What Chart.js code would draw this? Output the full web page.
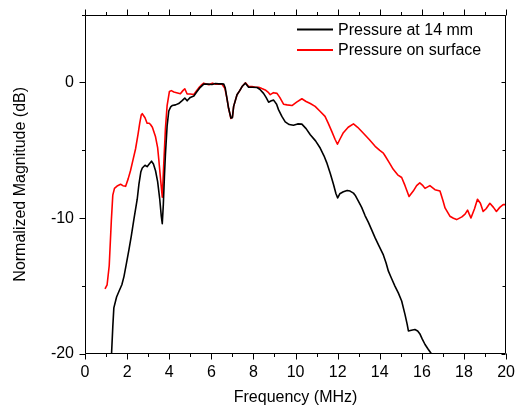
<!DOCTYPE html>
<html>
<head>
<meta charset="utf-8">
<script src="https://cdn.jsdelivr.net/npm/chart.js@4"></script>
<style>
  html, body { margin: 0; padding: 0; background: #fff; }
</style>
</head>
<body>
<canvas id="chart" width="518" height="409"></canvas>
<script>
// Pressure at 14 mm (black)
const freq14mm = [1.26, 1.32, 1.37, 1.5, 1.61, 1.75, 1.85, 1.97, 2.09, 2.2, 2.32, 2.48, 2.56, 2.65, 2.72, 2.85, 2.95, 3.05, 3.16, 3.25,
    3.35, 3.45, 3.55, 3.62, 3.67, 3.72, 3.77, 3.82, 3.9, 3.98, 4.07, 4.14, 4.3, 4.45, 4.6, 4.74, 4.85, 5.0, 5.17, 5.32,
    5.45, 5.64, 5.85, 6.03, 6.2, 6.35, 6.5, 6.59, 6.66, 6.74, 6.82, 6.93, 7.0, 7.06, 7.22, 7.35, 7.46, 7.62, 7.77, 7.95,
    8.17, 8.3, 8.48, 8.6, 8.72, 8.85, 8.96, 9.1, 9.19, 9.35, 9.51, 9.7, 9.9, 10.1, 10.3, 10.5, 10.7, 10.95, 11.17, 11.35,
    11.48, 11.65, 11.8, 11.92, 12.0, 12.1, 12.27, 12.45, 12.59, 12.75, 12.83, 12.99, 13.14, 13.3, 13.46, 13.6, 13.78, 13.95, 14.17, 14.3,
    14.41, 14.55, 14.72, 14.88, 15.04, 15.2, 15.3, 15.36, 15.5, 15.67, 15.8, 15.9, 16.02, 16.15, 16.3, 16.46];
const mag14mm = [-20, -18, -16.6, -15.8, -15.4, -14.9, -14.3, -13.3, -12.3, -11.3, -10.1, -8.6, -7.5, -6.6, -6.3, -6.1, -6.2, -6.0, -5.8, -6.0,
    -6.5, -7.3, -8.6, -9.8, -10.4, -9.0, -7.0, -5.3, -3.2, -2.1, -1.8, -1.7, -1.65, -1.55, -1.35, -1.15, -1.35, -1.1, -1.0, -0.66,
    -0.4, -0.12, -0.12, -0.15, -0.08, -0.1, -0.1, -0.12, -0.4, -1.15, -1.9, -2.62, -2.6, -1.76, -0.9, -0.6, -0.3, -0.05, -0.35, -0.35,
    -0.37, -0.5, -0.8, -1.1, -1.45, -1.35, -1.3, -1.6, -2.0, -2.5, -2.9, -3.1, -3.15, -3.05, -3.07, -3.4, -3.85, -4.3, -4.83, -5.4,
    -5.9, -6.7, -7.5, -8.2, -8.5, -8.2, -8.05, -7.95, -8.0, -8.15, -8.3, -8.75, -9.2, -9.8, -10.3, -10.8, -11.45, -12.0, -12.7, -13.3,
    -13.9, -14.4, -15.0, -15.5, -16.1, -17.1, -17.8, -18.3, -18.25, -18.2, -18.3, -18.5, -18.9, -19.3, -19.65, -20];

// Pressure on surface (red)
const freqSurface = [0.95, 1.05, 1.15, 1.25, 1.32, 1.4, 1.55, 1.69, 1.8, 1.93, 2.05, 2.16, 2.28, 2.4, 2.52, 2.6, 2.67, 2.72, 2.85, 2.95,
    3.05, 3.11, 3.2, 3.35, 3.45, 3.5, 3.6, 3.67, 3.74, 3.82, 3.9, 4.01, 4.1, 4.22, 4.35, 4.53, 4.65, 4.74, 4.85, 5.0,
    5.17, 5.3, 5.4, 5.52, 5.64, 5.88, 6.05, 6.19, 6.35, 6.5, 6.64, 6.74, 6.82, 6.93, 7.0, 7.06, 7.22, 7.35, 7.46, 7.62,
    7.77, 7.93, 8.1, 8.25, 8.4, 8.56, 8.72, 8.8, 8.95, 9.12, 9.25, 9.43, 9.6, 9.83, 10.05, 10.3, 10.5, 10.7, 10.93, 11.15,
    11.4, 11.55, 11.72, 11.88, 11.99, 12.1, 12.27, 12.5, 12.75, 12.95, 13.2, 13.5, 13.78, 14.0, 14.17, 14.25, 14.45, 14.64, 14.85, 15.04,
    15.2, 15.39, 15.59, 15.75, 15.9, 16.05, 16.15, 16.38, 16.62, 16.86, 17.0, 17.1, 17.33, 17.5, 17.65, 17.9, 18.05, 18.17, 18.25, 18.33,
    18.5, 18.64, 18.78, 18.91, 19.05, 19.23, 19.4, 19.54, 19.7, 19.86, 20.0];
const magSurface = [-15.2, -14.9, -13.5, -10.2, -8.3, -7.8, -7.6, -7.5, -7.6, -7.65, -7.1, -6.5, -5.7, -4.9, -3.8, -3.0, -2.4, -2.3, -2.6, -3.0,
    -3.0, -3.1, -3.3, -4.0, -4.8, -5.6, -7.3, -8.45, -6.0, -3.4, -1.7, -0.66, -0.6, -0.7, -0.75, -0.83, -0.6, -0.46, -0.85, -0.85,
    -0.88, -0.6, -0.4, -0.2, -0.05, -0.17, -0.05, -0.12, -0.1, -0.12, -0.42, -1.15, -1.9, -2.65, -2.55, -1.76, -0.9, -0.6, -0.3, -0.02,
    -0.3, -0.3, -0.35, -0.35, -0.45, -0.55, -0.75, -0.9, -0.75, -0.8, -1.1, -1.6, -1.65, -1.7, -1.45, -1.2, -1.4, -1.55, -1.76, -2.1,
    -2.5, -3.0, -3.6, -4.2, -4.55, -4.2, -3.7, -3.3, -3.05, -3.3, -3.7, -4.2, -4.7, -5.0, -5.2, -5.4, -5.9, -6.4, -6.8, -7.0,
    -7.6, -8.4, -8.0, -7.6, -7.4, -7.6, -7.8, -7.6, -7.9, -8.0, -8.7, -9.24, -9.85, -10.0, -10.1, -9.9, -9.7, -9.4, -9.7, -9.98,
    -9.3, -8.6, -8.9, -9.5, -9.3, -8.9, -9.2, -9.5, -9.2, -9.0, -9.0];

const xTicks = [0, 2, 4, 6, 8, 10, 12, 14, 16, 18, 20];
const yTickLabels = [0, -10, -20];

const FONT = '"Liberation Sans", Arial, sans-serif';
Chart.defaults.font.family = FONT;
Chart.defaults.font.size = 16;
Chart.defaults.color = '#000';

const toPoints = (xs, ys) => xs.map((f, i) => ({ x: f, y: ys[i] }));

// frame + major/minor ticks (outward on bottom/left/top, inward on right)
const frameTicks = {
    id: 'frameTicks',
    afterDraw(chart) {
        const { ctx, chartArea: a, scales: { x, y } } = chart;
        const L = Math.round(a.left) + 0.5, R = Math.round(a.right) - 0.5;
        const T = Math.round(a.top) + 0.5, B = Math.round(a.bottom) - 0.5;
        ctx.save();
        ctx.strokeStyle = '#000';
        ctx.lineWidth = 1;
        ctx.beginPath();
        ctx.rect(L, T, R - L, B - T);
        for (let v = 0; v <= 20; v++) {
            const px = Math.round(x.getPixelForValue(v)) + 0.5;
            const len = v % 2 === 0 ? 6 : 3.5;
            ctx.moveTo(px, B); ctx.lineTo(px, B + len);
            ctx.moveTo(px, T); ctx.lineTo(px, T - len);
        }
        for (let v = -20; v <= 5; v += 5) {
            const py = Math.round(y.getPixelForValue(v)) + 0.5;
            const major = v % 10 === 0;
            ctx.moveTo(L, py); ctx.lineTo(L - (major ? 6 : 3.5), py);
            ctx.moveTo(R, py); ctx.lineTo(R - (major ? 4 : 3), py);
        }
        ctx.stroke();
        ctx.restore();
    }
};

const insideLegend = {
    id: 'insideLegend',
    afterDraw(chart) {
        const { ctx } = chart;
        ctx.save();
        ctx.font = '16px ' + FONT;
        ctx.textBaseline = 'middle';
        ctx.fillStyle = '#000';
        chart.data.datasets.forEach((ds, i) => {
            const yy = 29.5 + i * 20.5;
            ctx.strokeStyle = ds.borderColor;
            ctx.lineWidth = 1.8;
            ctx.beginPath();
            ctx.moveTo(297, yy);
            ctx.lineTo(333, yy);
            ctx.stroke();
            ctx.fillText(ds.label, 338, yy + 1);
        });
        ctx.restore();
    }
};

new Chart(document.getElementById('chart'), {
    type: 'line',
    data: {
        datasets: [{
            label: 'Pressure at 14 mm',
            data: toPoints(freq14mm, mag14mm),
            borderColor: '#000000',
            borderWidth: 1.6
        }, {
            label: 'Pressure on surface',
            data: toPoints(freqSurface, magSurface),
            borderColor: '#ff0000',
            borderWidth: 1.6
        }]
    },
    options: {
        responsive: false,
        animation: false,
        layout: { padding: { top: 13, right: 10, left: 0, bottom: 0 } },
        elements: { point: { radius: 0 }, line: { tension: 0, borderJoinStyle: 'round' } },
        plugins: { legend: { display: false }, tooltip: { enabled: false } },
        scales: {
            x: {
                type: 'linear',
                min: 0,
                max: 20,
                grid: { display: false, drawTicks: true, tickLength: 6 },
                border: { display: false },
                afterBuildTicks: s => { s.ticks = xTicks.map(v => ({ value: v })); },
                ticks: { padding: 3, maxRotation: 0, autoSkip: false },
                title: { display: true, text: 'Frequency (MHz)', padding: { top: 0, bottom: 1.5 } },
                afterFit: s => { s.height = 55; }
            },
            y: {
                type: 'linear',
                min: -20,
                max: 5,
                grid: { display: false, drawTicks: true, tickLength: 6 },
                border: { display: false },
                afterBuildTicks: s => { s.ticks = yTickLabels.map(v => ({ value: v })); },
                ticks: { padding: 5, autoSkip: false, callback: v => String(v) },
                title: { display: true, text: 'Normalized Magnitude (dB)', padding: { top: 11, bottom: 0 } },
                afterFit: s => { s.width = 85; }
            }
        }
    },
    plugins: [frameTicks, insideLegend]
});
</script>
</body>
</html>
